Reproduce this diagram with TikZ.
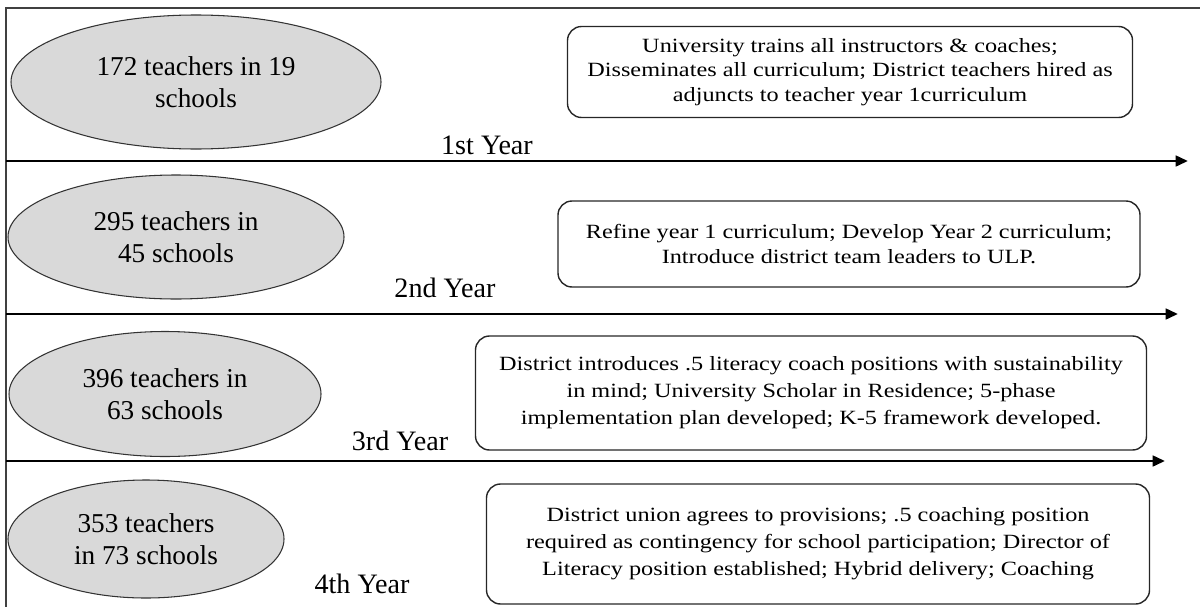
\documentclass[tikz,border=0pt]{standalone}
\usepackage{fontspec}
\setmainfont{Liberation Serif}
\newfontfamily\widefont[FakeStretch=1.2]{Liberation Serif}
\usetikzlibrary{shapes.geometric,arrows.meta}

\begin{document}
\begin{tikzpicture}[x=0.2mm, y=0.2mm]
\tikzstyle{cohort}=[ellipse, draw=black!80, fill=black!15, line width=0.6pt, inner sep=0pt, align=center, font=\fontsize{15.5}{18}\selectfont]
\tikzstyle{task}=[rectangle, rounded corners=8pt, draw=black!85, line width=0.8pt, inner sep=0pt, align=center]
\tikzstyle{yearlabel}=[inner sep=0pt, font=\fontsize{16}{18}\selectfont]
\tikzstyle{timeline}=[line width=1.6pt, -{Triangle[length=7pt,width=6pt]}]
\useasboundingbox (0,0) rectangle (1200,-607);
% frame
\draw [black!75, line width=1.1pt] (1200,-8) -- (6,-8) -- (6,-607);
% year lines
\coordinate (t1s) at (6,-161);
\coordinate (t1e) at (1188,-161);
\coordinate (t2s) at (6,-314);
\coordinate (t2e) at (1178,-314);
\coordinate (t3s) at (6,-461);
\coordinate (t3e) at (1165,-461);
\draw [timeline] (t1s) -- (t1e);
\draw [timeline] (t2s) -- (t2e);
\draw [timeline] (t3s) -- (t3e);
% teachers per year
\node [cohort, minimum width=7.4cm, minimum height=2.68cm] (pop1) at (196,-82) {172 teachers in 19\\schools};
\node [cohort, minimum width=6.72cm, minimum height=2.48cm] (pop2) at (176,-237) {295 teachers in\\45 schools};
\node [cohort, minimum width=6.24cm, minimum height=2.5cm] (pop3) at (165,-394) {396 teachers in\\63 schools};
\node [cohort, minimum width=5.52cm, minimum height=2.36cm] (pop4) at (146,-539) {353 teachers\\in 73 schools};
% year labels
\node [yearlabel] (yr1) at (487,-145) {1st Year};
\node [yearlabel] (yr2) at (445,-288) {2nd Year};
\node [yearlabel] (yr3) at (400,-441) {3rd Year};
\node [yearlabel] (yr4) at (362,-584) {4th Year};
% what happened each year
\node [task, minimum width=11.3cm, minimum height=1.82cm, font=\widefont\fontsize{11.5}{14}\selectfont] (act1) at (850,-72) {University trains all instructors \& coaches;\\Disseminates all curriculum; District teachers hired as\\adjuncts to teacher year 1curriculum};
\node [task, minimum width=11.64cm, minimum height=1.72cm, font=\widefont\fontsize{11.5}{14.5}\selectfont] (act2) at (849,-244) {Refine year 1 curriculum; Develop Year 2 curriculum;\\Introduce district team leaders to ULP.};
\node [task, minimum width=13.42cm, minimum height=2.28cm, font=\widefont\fontsize{11.5}{15.3}\selectfont] (act3) at (811,-393) {District introduces .5 literacy coach positions with sustainability\\in mind; University Scholar in Residence; 5-phase\\implementation plan developed; K-5 framework developed.};
\node [task, minimum width=13.26cm, minimum height=2.4cm, font=\widefont\fontsize{11.5}{15.3}\selectfont] (act4) at (818,-544) {District union agrees to provisions; .5 coaching position\\required as contingency for school participation; Director of\\Literacy position established; Hybrid delivery; Coaching};
\end{tikzpicture}
\end{document}
